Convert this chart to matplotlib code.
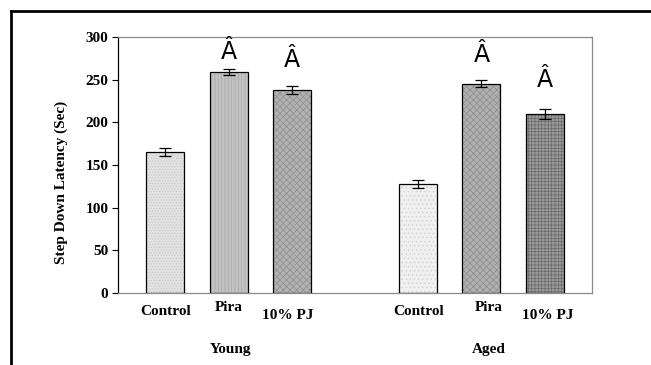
import matplotlib.pyplot as plt
from matplotlib.lines import Line2D

groups = ['Young', 'Aged']
treatments = ['Control', 'Pira', '10% PJ']
young_vals = [165, 259, 237.5]
young_err = [5, 3, 4.5]
aged_vals = [127.5, 245.5, 209.5]
aged_err = [4.5, 4, 6]
# marker "Â" positions (y in data units) above Pira and 10% PJ
young_mark = [None, 282, 273]
aged_mark = [None, 279, 250]

x_young = [0, 1, 2]
x_aged = [4, 5, 6]

young_face = ['#e2e2e2', '#c2c2c2', '#b2b2b2']
aged_face = ['#f0f0f0', '#b0b0b0', '#999999']
young_hatch_col = ['#c8c8c8', '#a8a8a8', '#8e8e8e']
aged_hatch_col = ['#d0d0d0', '#8c8c8c', '#6a6a6a']
young_hatch = ['......', '|||||', 'xxxxx']
aged_hatch = ['....', 'xxxxx', '+++++']

plt.rcParams['font.family'] = 'Liberation Serif'
plt.rcParams['hatch.linewidth'] = 0.5

fig = plt.figure(figsize=(6.51, 3.65), dpi=100)
ax = fig.add_axes([118/651, 1 - 293/365, (592-118)/651, (293-37)/365])

for xs, vals, errs, faces, hcols, hatches in [
        (x_young, young_vals, young_err, young_face, young_hatch_col, young_hatch),
        (x_aged, aged_vals, aged_err, aged_face, aged_hatch_col, aged_hatch)]:
    for x, v, e, fc, hc, h in zip(xs, vals, errs, faces, hcols, hatches):
        ax.bar(x, v, width=0.6, color=fc, hatch=h, edgecolor=hc, linewidth=0, zorder=2)
        ax.bar(x, v, width=0.6, fill=False, edgecolor='black', linewidth=0.9, zorder=3)
        ax.errorbar(x, v, yerr=e, fmt='none', ecolor='black', elinewidth=0.9, capsize=4, capthick=0.9, zorder=4)

for xs, marks in [(x_young, young_mark), (x_aged, aged_mark)]:
    for x, m in zip(xs, marks):
        if m is not None:
            ax.text(x, m, 'Â', ha='center', va='center', fontsize=17, family='DejaVu Sans')

ax.set_xlim(-0.75, 6.75)
ax.set_ylim(0, 300)
ax.set_yticks(range(0, 301, 50))
ax.set_xticks([])
for lab in ax.get_yticklabels():
    lab.set_fontweight('bold')
    lab.set_fontsize(11)
ax.tick_params(axis='y', length=4, width=0.8, pad=3, color='black')
for s in ax.spines.values():
    s.set_color('#8a8a8a')
    s.set_linewidth(0.9)
ax.spines['left'].set_color('black')

ax.set_ylabel('Step Down Latency (Sec)', fontsize=11, fontweight='bold')
ax.yaxis.set_label_coords(-0.106, 0.432)

label_dy = [0, 3, -3]
young_dx = [0, 0, -3]
aged_dx = [0, 5, 2]
for xs, dxs in ((x_young, young_dx), (x_aged, aged_dx)):
    for x, t, dy, dx in zip(xs, treatments, label_dy, dxs):
        ax.annotate(t, xy=(x, 0), xycoords=('data', 'axes fraction'), xytext=(dx, -13.5 + dy),
                    textcoords='offset points', ha='center', va='center',
                    fontsize=11, fontweight='bold')

for xs, g, dx in zip((x_young, x_aged), groups, (1.5, 5)):
    ax.annotate(g, xy=(sum(xs) / 3, 0), xycoords=('data', 'axes fraction'), xytext=(dx, -41),
                textcoords='offset points', ha='center', va='center',
                fontsize=11, fontweight='bold')

# outer frame
fig.add_artist(Line2D([11/651, 11/651], [0, 1 - 11/365], color='black', linewidth=2, transform=fig.transFigure))
fig.add_artist(Line2D([11/651, 1], [1 - 11/365, 1 - 11/365], color='black', linewidth=2, transform=fig.transFigure))

fig.savefig('out.png', dpi=100)
